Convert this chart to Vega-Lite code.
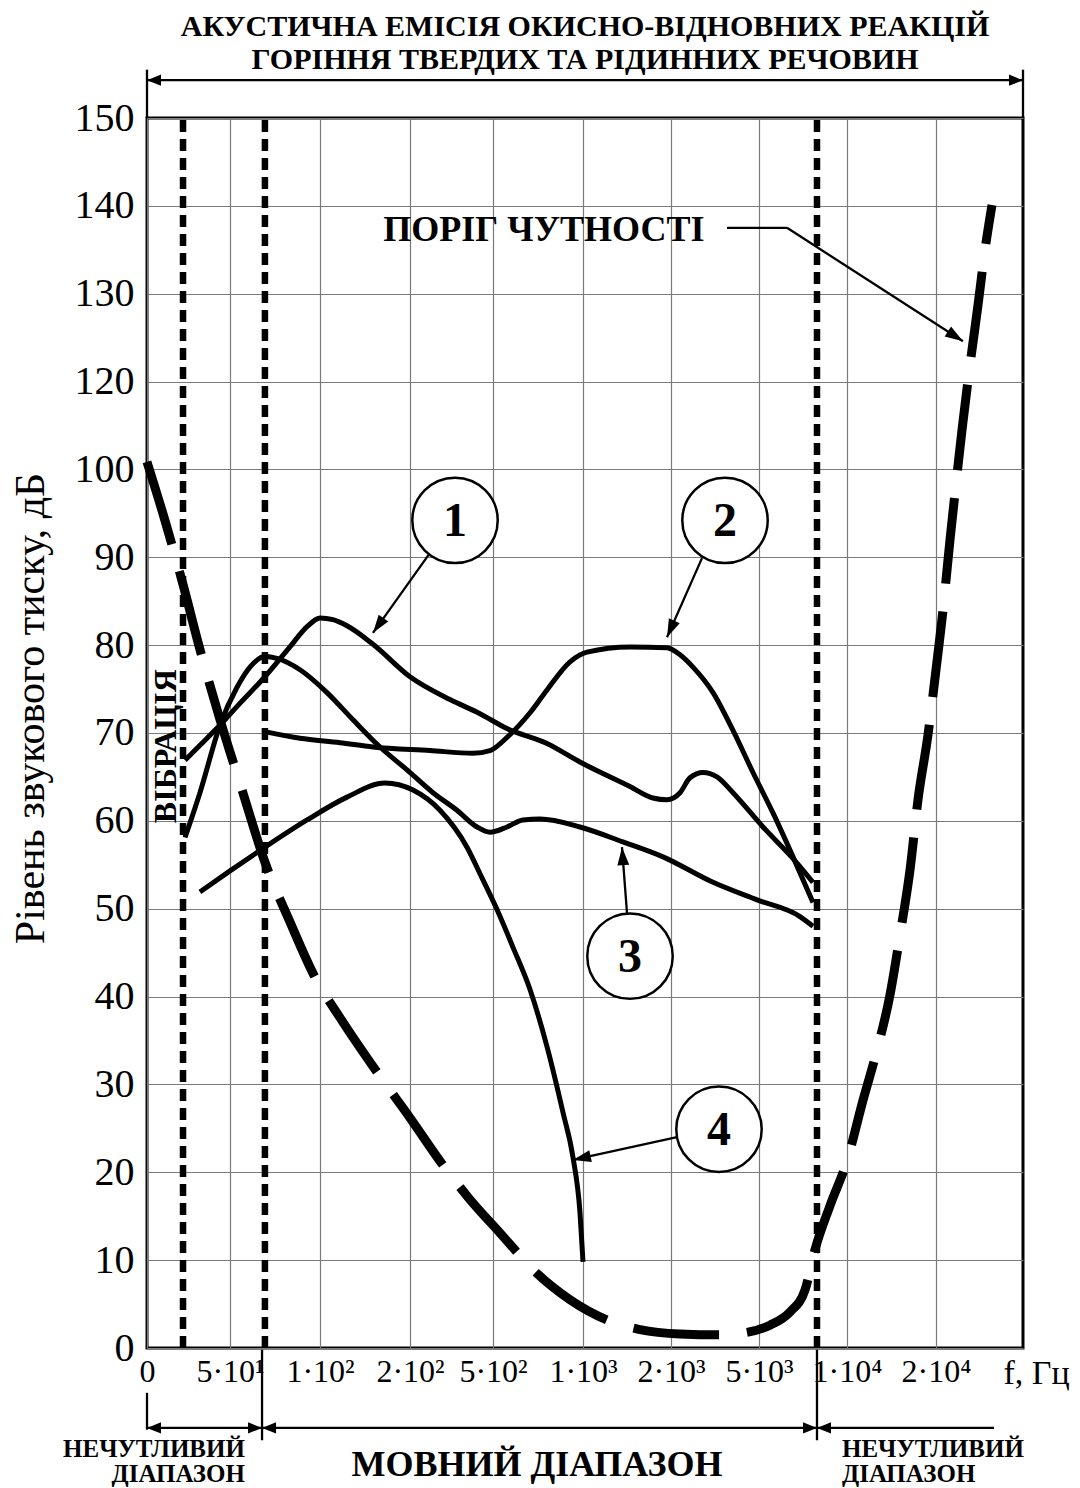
{
  "$schema": "https://vega.github.io/schema/vega-lite/v6.json",
  "width": 876,
  "height": 1230,
  "autosize": {"type": "none"},
  "padding": {"left": 147, "top": 118, "right": 57, "bottom": 140},
  "background": "white",
  "config": {
    "view": {"stroke": "black", "strokeWidth": 3},
    "font": "Liberation Serif"
  },
  "datasets": {
    "threshold": [
      {"f": 0, "L": 101.7}, {"f": 10.8, "L": 94.2}, {"f": 21.7, "L": 86.9}, {"f": 31.9, "L": 79.5},
      {"f": 44.0, "L": 71.5}, {"f": 56.7, "L": 63.5}, {"f": 69.4, "L": 55.3}, {"f": 83.3, "L": 48.5},
      {"f": 97.2, "L": 42.2}, {"f": 122.2, "L": 37.6}, {"f": 163.3, "L": 31.4}, {"f": 200, "L": 26.2},
      {"f": 319.3, "L": 20.8}, {"f": 416.9, "L": 16.9}, {"f": 538.9, "L": 13.1}, {"f": 733.3, "L": 8.7},
      {"f": 927.8, "L": 5.5}, {"f": 1272.7, "L": 3.2}, {"f": 1647.7, "L": 2.1}, {"f": 2306.8, "L": 1.6},
      {"f": 3670.5, "L": 1.5}, {"f": 4625, "L": 1.8}, {"f": 5625, "L": 2.6}, {"f": 6761, "L": 4.1},
      {"f": 7614, "L": 6.6}, {"f": 8182, "L": 11.2}, {"f": 9034, "L": 16.2}, {"f": 10000, "L": 21.3},
      {"f": 11798, "L": 28.2}, {"f": 13371, "L": 33.9}, {"f": 14831, "L": 40.2}, {"f": 15955, "L": 47.0},
      {"f": 17079, "L": 54.4}, {"f": 17978, "L": 62.4}, {"f": 19101, "L": 69.8}, {"f": 20000, "L": 77.2},
      {"f": 22414, "L": 84.0}, {"f": 24828, "L": 92.0}, {"f": 26552, "L": 97.3}, {"f": 28966, "L": 109.0},
      {"f": 31724, "L": 121.9}, {"f": 34483, "L": 128.7}, {"f": 36897, "L": 135.0}, {"f": 39310, "L": 140.1}
    ],
    "curves": [
      {"curve": "1", "f": 22.9, "L": 66.9}, {"curve": "1", "f": 31.9, "L": 68.6}, {"curve": "1", "f": 44.0, "L": 70.9},
      {"curve": "1", "f": 55.6, "L": 73.4}, {"curve": "1", "f": 69.4, "L": 76.4}, {"curve": "1", "f": 83.3, "L": 79.8},
      {"curve": "1", "f": 92.8, "L": 82.1}, {"curve": "1", "f": 100, "L": 83.1}, {"curve": "1", "f": 114.4, "L": 82.9},
      {"curve": "1", "f": 130, "L": 82.2}, {"curve": "1", "f": 158.9, "L": 80.1}, {"curve": "1", "f": 200, "L": 76.4},
      {"curve": "1", "f": 344.6, "L": 73.8}, {"curve": "1", "f": 453, "L": 72.2}, {"curve": "1", "f": 577.8, "L": 70.5},
      {"curve": "1", "f": 800, "L": 68.8}, {"curve": "1", "f": 983, "L": 66.7}, {"curve": "1", "f": 1534, "L": 63.9},
      {"curve": "1", "f": 1795, "L": 62.6}, {"curve": "1", "f": 1955, "L": 62.4}, {"curve": "1", "f": 2307, "L": 63.2},
      {"curve": "1", "f": 2648, "L": 64.9}, {"curve": "1", "f": 3091, "L": 65.5}, {"curve": "1", "f": 3568, "L": 65.0},
      {"curve": "1", "f": 4114, "L": 63.2}, {"curve": "1", "f": 5227, "L": 59.3}, {"curve": "1", "f": 7159, "L": 55.2},
      {"curve": "1", "f": 8068, "L": 53.0},
      {"curve": "2", "f": 70.6, "L": 70.1}, {"curve": "2", "f": 88.9, "L": 69.4}, {"curve": "2", "f": 122.2, "L": 68.9},
      {"curve": "2", "f": 158.9, "L": 68.4}, {"curve": "2", "f": 272.3, "L": 68.0}, {"curve": "2", "f": 427.7, "L": 67.7},
      {"curve": "2", "f": 489.2, "L": 68.0}, {"curve": "2", "f": 577.8, "L": 69.5}, {"curve": "2", "f": 705.6, "L": 72.3},
      {"curve": "2", "f": 800, "L": 74.9}, {"curve": "2", "f": 927.8, "L": 78.1}, {"curve": "2", "f": 1045, "L": 79.2},
      {"curve": "2", "f": 1534, "L": 79.8}, {"curve": "2", "f": 1955, "L": 79.7}, {"curve": "2", "f": 2307, "L": 78.9},
      {"curve": "2", "f": 2750, "L": 77.5}, {"curve": "2", "f": 3432, "L": 74.6}, {"curve": "2", "f": 4114, "L": 70.3},
      {"curve": "2", "f": 4795, "L": 65.5}, {"curve": "2", "f": 5795, "L": 60.9}, {"curve": "2", "f": 6932, "L": 55.9},
      {"curve": "2", "f": 8068, "L": 50.7},
      {"curve": "3", "f": 22.9, "L": 58.1}, {"curve": "3", "f": 31.9, "L": 63.2}, {"curve": "3", "f": 44.0, "L": 70.9},
      {"curve": "3", "f": 53.9, "L": 75.2}, {"curve": "3", "f": 61.1, "L": 77.5}, {"curve": "3", "f": 69.4, "L": 78.7},
      {"curve": "3", "f": 76.1, "L": 78.5}, {"curve": "3", "f": 88.9, "L": 77.2}, {"curve": "3", "f": 107.8, "L": 74.6},
      {"curve": "3", "f": 136.7, "L": 71.5}, {"curve": "3", "f": 166.7, "L": 68.4}, {"curve": "3", "f": 196.7, "L": 65.8},
      {"curve": "3", "f": 283.1, "L": 63.2}, {"curve": "3", "f": 369.9, "L": 61.2}, {"curve": "3", "f": 442.2, "L": 59.3},
      {"curve": "3", "f": 489.2, "L": 58.7}, {"curve": "3", "f": 577.8, "L": 59.3}, {"curve": "3", "f": 666.7, "L": 60.1},
      {"curve": "3", "f": 761.1, "L": 60.2}, {"curve": "3", "f": 983.3, "L": 59.3}, {"curve": "3", "f": 1454.5, "L": 57.6},
      {"curve": "3", "f": 1909, "L": 55.9}, {"curve": "3", "f": 3432, "L": 53.0}, {"curve": "3", "f": 4932, "L": 51.0},
      {"curve": "3", "f": 7330, "L": 49.1}, {"curve": "3", "f": 8068, "L": 48.0},
      {"curve": "4", "f": 31.9, "L": 51.9}, {"curve": "4", "f": 50, "L": 54.3}, {"curve": "4", "f": 69.4, "L": 57.0},
      {"curve": "4", "f": 92.8, "L": 60.1}, {"curve": "4", "f": 130, "L": 62.7}, {"curve": "4", "f": 172.2, "L": 64.3},
      {"curve": "4", "f": 210.8, "L": 63.5}, {"curve": "4", "f": 308.4, "L": 61.2}, {"curve": "4", "f": 406, "L": 57.0},
      {"curve": "4", "f": 460.2, "L": 53.5}, {"curve": "4", "f": 522.2, "L": 49.9}, {"curve": "4", "f": 611.1, "L": 45.6},
      {"curve": "4", "f": 705.6, "L": 40.8}, {"curve": "4", "f": 800, "L": 34.3}, {"curve": "4", "f": 888.9, "L": 26.8},
      {"curve": "4", "f": 944.4, "L": 21.7}, {"curve": "4", "f": 983.3, "L": 15.4}, {"curve": "4", "f": 1000, "L": 9.8}
    ],
    "bounds": [
      {"f": 21.7, "L": 0, "L2": 150},
      {"f": 69.4, "L": 0, "L2": 150},
      {"f": 8295, "L": 0, "L2": 150}
    ],
    "segments": [
      {"f": 0, "L": 154.3, "f2": 50000, "L2": 154.3},
      {"f": 0, "L": 150, "f2": 0, "L2": 155.5},
      {"f": 50000, "L": 150, "f2": 50000, "L2": 155.5},
      {"f": 3909, "L": 137.5, "f2": 6591, "L2": 137.5},
      {"f": 6591, "L": 137.5, "f2": 29310, "L2": 124.6},
      {"f": 272.3, "L": 90.5, "f2": 158.9, "L2": 81.4},
      {"f": 3057, "L": 89.9, "f2": 1955, "L2": 80.9},
      {"f": 1500, "L": 49.5, "f2": 1443, "L2": 57.0},
      {"f": 2204.5, "L": 24.0, "f2": 944.4, "L2": 21.4},
      {"f": 0, "L": -5.1, "f2": 0, "L2": -9.3},
      {"f": 67.8, "L": -0.2, "f2": 67.8, "L2": -10.5},
      {"f": 8295, "L": -0.2, "f2": 8295, "L2": -10.5},
      {"f": 0, "L": -9.1, "f2": 67.8, "L2": -9.1},
      {"f": 67.8, "L": -9.1, "f2": 8295, "L2": -9.1},
      {"f": 8295, "L": -9.1, "f2": 40000, "L2": -9.1}
    ],
    "numbers": [
      {"n": "1", "f": 362.7, "L": 94.2},
      {"n": "2", "f": 3841, "L": 94.2},
      {"n": "3", "f": 1534, "L": 44.6},
      {"n": "4", "f": 3636, "L": 24.9}
    ]
  },
  "encoding": {
    "x": {
      "field": "f",
      "type": "quantitative",
      "scale": {
        "type": "linear",
        "domain": [0, 50, 100, 200, 500, 1000, 2000, 5000, 10000, 20000, 50000],
        "range": [0, 83, 173, 263, 346, 436, 524, 612, 700, 789, 876],
        "zero": false,
        "nice": false
      },
      "axis": {
        "values": [0, 50, 100, 200, 500, 1000, 2000, 5000, 10000, 20000],
        "labelExpr": "datum.value == 0 ? '0' : datum.value == 50 ? '5·10¹' : datum.value == 100 ? '1·10²' : datum.value == 200 ? '2·10²' : datum.value == 500 ? '5·10²' : datum.value == 1000 ? '1·10³' : datum.value == 2000 ? '2·10³' : datum.value == 5000 ? '5·10³' : datum.value == 10000 ? '1·10⁴' : '2·10⁴'",
        "labelFont": "Liberation Serif",
        "labelFontSize": 32,
        "labelColor": "black",
        "labelPadding": 8,
        "labelBaseline": "top",
        "labelFlush": false,
        "labelOverlap": false,
        "ticks": false,
        "tickSize": 0,
        "domain": false,
        "grid": true,
        "gridColor": "#7a7a7a",
        "gridWidth": 1.2,
        "title": "f, Гц",
        "titleFont": "Liberation Serif",
        "titleFontSize": 34,
        "titleFontWeight": "normal",
        "titleColor": "black",
        "titleX": 889,
        "titleY": 8,
        "titleAlign": "center",
        "titleBaseline": "top"
      }
    },
    "y": {
      "field": "L",
      "type": "quantitative",
      "scale": {
        "type": "linear",
        "domain": [0, 100, 120, 150],
        "range": [1230, 351.4, 263.6, 0],
        "zero": false,
        "nice": false
      },
      "axis": {
        "values": [0, 10, 20, 30, 40, 50, 60, 70, 80, 90, 100, 120, 130, 140, 150],
        "labelFont": "Liberation Serif",
        "labelFontSize": 40,
        "labelColor": "black",
        "labelPadding": 13,
        "labelBaseline": "middle",
        "labelFlush": false,
        "labelOverlap": false,
        "ticks": false,
        "tickSize": 0,
        "domain": false,
        "grid": true,
        "gridColor": "#7a7a7a",
        "gridWidth": 1.2,
        "title": "Рівень звукового тиску, дБ",
        "titleFont": "Liberation Serif",
        "titleFontSize": 42,
        "titleFontWeight": "normal",
        "titleColor": "black",
        "titleAngle": 270,
        "titleX": -117,
        "titleY": 590,
        "titleAlign": "center",
        "titleBaseline": "middle"
      }
    }
  },
  "layer": [
    {
      "data": {"name": "bounds"},
      "mark": {"type": "rule", "color": "black", "strokeWidth": 6.5, "strokeDash": [12, 7]},
      "encoding": {"y2": {"field": "L2"}}
    },
    {
      "data": {"name": "threshold"},
      "mark": {"type": "line", "color": "black", "strokeWidth": 9, "strokeDash": [86, 28], "strokeCap": "butt", "interpolate": "monotone"},
      "encoding": {}
    },
    {
      "data": {"name": "curves"},
      "mark": {"type": "line", "color": "black", "strokeWidth": 5, "interpolate": "monotone"},
      "encoding": {"detail": {"field": "curve"}}
    },
    {
      "data": {"name": "segments"},
      "mark": {"type": "rule", "color": "black", "strokeWidth": 2.3},
      "encoding": {"x2": {"field": "f2"}, "y2": {"field": "L2"}}
    },
    {
      "data": {"values": [{"f": 0, "L": 154.3}, {"f": 0, "L": -9.1}, {"f": 67.8, "L": -9.1}, {"f": 8295, "L": -9.1}]},
      "mark": {"type": "point", "shape": "M0,0L-1,-0.4L-1,0.4Z", "size": 784, "angle": 180, "filled": true, "color": "black", "opacity": 1}
    },
    {
      "data": {"values": [{"f": 50000, "L": 154.3}, {"f": 67.8, "L": -9.1}, {"f": 8295, "L": -9.1}]},
      "mark": {"type": "point", "shape": "M0,0L-1,-0.4L-1,0.4Z", "size": 784, "angle": 0, "filled": true, "color": "black", "opacity": 1}
    },
    {
      "data": {"values": [{"f": 158.9, "L": 81.4}]},
      "mark": {"type": "point", "shape": "M0,0L-1,-0.33L-1,0.33Z", "size": 1296, "angle": 125.5, "filled": true, "color": "black", "opacity": 1}
    },
    {
      "data": {"values": [{"f": 1955, "L": 80.9}]},
      "mark": {"type": "point", "shape": "M0,0L-1,-0.33L-1,0.33Z", "size": 1296, "angle": 113.9, "filled": true, "color": "black", "opacity": 1}
    },
    {
      "data": {"values": [{"f": 1443, "L": 57.0}]},
      "mark": {"type": "point", "shape": "M0,0L-1,-0.33L-1,0.33Z", "size": 1296, "angle": 265.7, "filled": true, "color": "black", "opacity": 1}
    },
    {
      "data": {"values": [{"f": 944.4, "L": 21.4}]},
      "mark": {"type": "point", "shape": "M0,0L-1,-0.33L-1,0.33Z", "size": 1296, "angle": 167.5, "filled": true, "color": "black", "opacity": 1}
    },
    {
      "data": {"values": [{"f": 29310, "L": 124.6}]},
      "mark": {"type": "point", "shape": "M0,0L-1,-0.33L-1,0.33Z", "size": 1296, "angle": 32.7, "filled": true, "color": "black", "opacity": 1}
    },
    {
      "data": {"name": "numbers"},
      "mark": {"type": "point", "shape": "circle", "size": 7300, "filled": true, "fill": "white", "stroke": "black", "strokeWidth": 2.5, "opacity": 1}
    },
    {
      "data": {"name": "numbers"},
      "mark": {"type": "text", "font": "Liberation Serif", "fontSize": 48, "fontWeight": "bold", "color": "black", "align": "center", "baseline": "middle", "dy": 2},
      "encoding": {"text": {"field": "n"}}
    },
    {
      "data": {"values": [
        {"label": "АКУСТИЧНА ЕМІСІЯ ОКИСНО-ВІДНОВНИХ РЕАКЦІЙ", "f": 1023, "L": 160.4},
        {"label": "ГОРІННЯ ТВЕРДИХ ТА РІДИННИХ РЕЧОВИН", "f": 1023, "L": 156.6}
      ]},
      "mark": {"type": "text", "font": "Liberation Serif", "fontSize": 30, "fontWeight": "bold", "color": "black", "align": "center", "baseline": "middle"},
      "encoding": {"text": {"field": "label"}}
    },
    {
      "data": {"values": [{"label": "ПОРІГ ЧУТНОСТІ", "f": 783, "L": 137.2}]},
      "mark": {"type": "text", "font": "Liberation Serif", "fontSize": 36, "fontWeight": "bold", "color": "black", "align": "center", "baseline": "middle"},
      "encoding": {"text": {"field": "label"}}
    },
    {
      "data": {"values": [{"label": "ВІБРАЦІЯ", "f": 11.4, "L": 68.5}]},
      "mark": {"type": "text", "font": "Liberation Serif", "fontSize": 32, "fontWeight": "bold", "color": "black", "align": "center", "baseline": "middle", "angle": 270},
      "encoding": {"text": {"field": "label"}}
    },
    {
      "data": {"values": [{"label": "НЕЧУТЛИВИЙ", "f": 58.3, "L": -11.5}, {"label": "ДІАПАЗОН", "f": 58.3, "L": -14.3}]},
      "mark": {"type": "text", "font": "Liberation Serif", "fontSize": 25, "fontWeight": "bold", "color": "black", "align": "right", "baseline": "middle"},
      "encoding": {"text": {"field": "label"}}
    },
    {
      "data": {"values": [{"label": "НЕЧУТЛИВИЙ", "f": 9716, "L": -11.5}, {"label": "ДІАПАЗОН", "f": 9716, "L": -14.3}]},
      "mark": {"type": "text", "font": "Liberation Serif", "fontSize": 25, "fontWeight": "bold", "color": "black", "align": "left", "baseline": "middle"},
      "encoding": {"text": {"field": "label"}}
    },
    {
      "data": {"values": [{"label": "МОВНИЙ ДІАПАЗОН", "f": 744, "L": -13.3}]},
      "mark": {"type": "text", "font": "Liberation Serif", "fontSize": 36, "fontWeight": "bold", "color": "black", "align": "center", "baseline": "middle"},
      "encoding": {"text": {"field": "label"}}
    }
  ]
}
